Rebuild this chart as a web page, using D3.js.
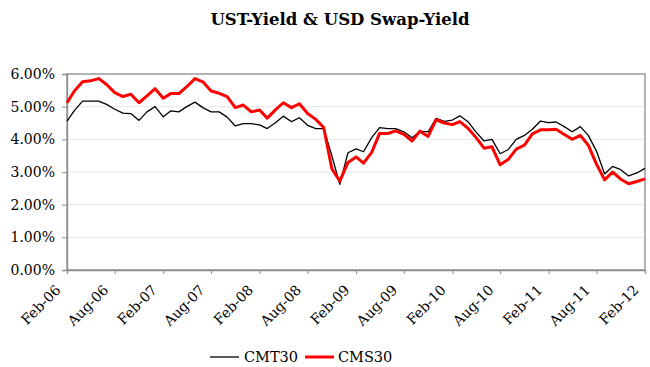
<!DOCTYPE html>
<html>
<head>
<meta charset="utf-8">
<script src="https://cdn.jsdelivr.net/npm/d3@7"></script>
<style>
  html, body { margin: 0; padding: 0; background: #fff; }
  svg { display: block; }
  text { font-family: "DejaVu Serif", "Liberation Serif", serif; fill: #000; }
</style>
</head>
<body>
<svg id="chart" width="650" height="367"></svg>
<script>
const title = "UST-Yield & USD Swap-Yield";
const startMonth = "Feb-06";
const endMonth = "Feb-12";
const tickLabels = ["Feb-06","Aug-06","Feb-07","Aug-07","Feb-08","Aug-08","Feb-09","Aug-09","Feb-10","Aug-10","Feb-11","Aug-11","Feb-12"];
const yTicks = [0, 1, 2, 3, 4, 5, 6];
const seriesNames = ["CMT30", "CMS30"];
const cmt30 = [4.56,4.88,5.17,5.17,5.17,5.07,4.92,4.80,4.79,4.58,4.84,5.00,4.69,4.87,4.84,5.00,5.14,4.97,4.84,4.84,
  4.68,4.41,4.48,4.48,4.44,4.33,4.51,4.71,4.54,4.66,4.43,4.33,4.33,3.50,2.62,3.59,3.71,3.62,4.05,4.36,
  4.33,4.33,4.23,4.05,4.25,4.23,4.64,4.55,4.59,4.72,4.54,4.23,3.95,4.00,3.56,3.69,4.00,4.12,4.31,4.56,
  4.51,4.53,4.39,4.23,4.39,4.12,3.64,2.94,3.17,3.07,2.88,2.97,3.11];
const cms30 = [5.12,5.48,5.76,5.79,5.86,5.68,5.43,5.31,5.38,5.12,5.33,5.55,5.26,5.40,5.40,5.61,5.86,5.76,5.48,5.41,
  5.31,4.97,5.05,4.84,4.90,4.65,4.90,5.12,4.97,5.09,4.79,4.61,4.36,3.10,2.72,3.29,3.46,3.27,3.60,4.18,
  4.18,4.26,4.15,3.95,4.25,4.09,4.60,4.50,4.45,4.54,4.34,4.06,3.73,3.77,3.22,3.39,3.70,3.82,4.17,4.29,
  4.29,4.31,4.15,4.00,4.12,3.82,3.24,2.76,3.00,2.78,2.64,2.71,2.79];

const parse = d3.timeParse("%b-%y");
const t0 = parse(startMonth), t1 = parse(endMonth);
const months = d3.timeMonth.range(t0, d3.timeMonth.offset(t1, 1));

const svg = d3.select("#chart");
const L = 67, R = 645, T = 74, B = 270;

const x = d3.scaleTime().domain([t0, t1]).range([L, R]);
const y = d3.scaleLinear().domain([0, 6]).range([B, T]);

// title
svg.append("text").attr("x", 340).attr("y", 25).attr("text-anchor", "middle")
  .style("font-size", "16.5px").style("font-weight", "bold").text(title);

// gridlines
svg.append("g").selectAll("line").data(yTicks.filter(v => v > 0 && v < 6)).join("line")
  .attr("x1", L).attr("x2", R).attr("y1", d => y(d)).attr("y2", d => y(d))
  .attr("stroke", "#e6e6e6").attr("stroke-width", 1);

// frame
svg.append("rect").attr("x", L).attr("y", T).attr("width", R - L).attr("height", B - T)
  .attr("fill", "none").attr("stroke", "#8c8c8c").attr("stroke-width", 1.3);

// y axis
const yAxis = d3.axisLeft(y).tickValues(yTicks).tickSize(5).tickPadding(7)
  .tickFormat(d => d3.format(".2f")(d) + "%");
const gy = svg.append("g").attr("transform", `translate(${L},0)`).call(yAxis);
gy.select(".domain").attr("stroke", "#8c8c8c").attr("stroke-width", 1.3);
gy.selectAll(".tick line").attr("stroke", "#8c8c8c");
gy.selectAll("text").style("font-size", "14px").style("font-family", "DejaVu Serif").attr("fill", "#000");

// x axis
const xAxis = d3.axisBottom(x).tickValues(tickLabels.map(parse)).tickSize(4)
  .tickFormat(d3.timeFormat("%b-%y"));
const gx = svg.append("g").attr("transform", `translate(0,${B})`).call(xAxis);
gx.select(".domain").attr("stroke", "#8c8c8c").attr("stroke-width", 1.3);
gx.selectAll(".tick line").attr("stroke", "#8c8c8c");
gx.selectAll("text").style("font-size", "14px").style("font-family", "DejaVu Serif").attr("fill", "#000")
  .attr("text-anchor", "end").attr("dy", null).attr("y", 0)
  .attr("transform", "translate(-6,21) rotate(-45)");

// lines
const line = d3.line().x((d, i) => x(months[i])).y(d => y(d));
svg.append("path").datum(cmt30).attr("d", line).attr("fill", "none")
  .attr("stroke", "#000").attr("stroke-width", 1.3).attr("stroke-linejoin", "round");
svg.append("path").datum(cms30).attr("d", line).attr("fill", "none")
  .attr("stroke", "#ff0000").attr("stroke-width", 3).attr("stroke-linejoin", "round");

// legend
const legend = [{name: seriesNames[0], color: "#000", w: 1.3, x: 210, tx: 244},
                {name: seriesNames[1], color: "#ff0000", w: 3, x: 305, tx: 338}];
const lg = svg.append("g");
legend.forEach(l => {
  lg.append("line").attr("x1", l.x).attr("x2", l.x + 29).attr("y1", 357).attr("y2", 357)
    .attr("stroke", l.color).attr("stroke-width", l.w);
  lg.append("text").attr("x", l.tx).attr("y", 362).style("font-size", "14.5px").text(l.name);
});
</script>
</body>
</html>
